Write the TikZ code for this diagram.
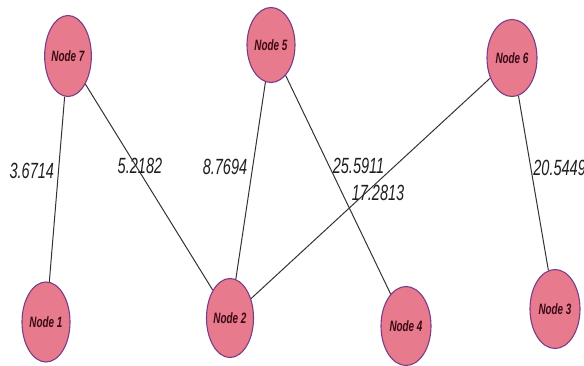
\documentclass[tikz,border=0pt]{standalone}
\usepackage{fontspec}
\usetikzlibrary{shapes.geometric}
\newfontfamily\narrowfont{Liberation Sans}[FakeStretch=0.66]
\definecolor{nodefill}{HTML}{E87A8E}
\definecolor{nodeedge}{HTML}{7A3C86}
\definecolor{nodetext}{HTML}{3A0A14}
\definecolor{edgecol}{HTML}{333333}
\tikzset{
  gnode/.style={ellipse, draw=nodeedge, line width=1.1pt, fill=nodefill, inner sep=0pt,
    font=\narrowfont\bfseries\itshape\fontsize{15}{15}\selectfont, text=nodetext},
  gedge/.style={draw=edgecol, line width=1pt},
  wlabel/.style={font=\narrowfont\itshape\fontsize{22}{22}\selectfont, text=black!88, inner sep=1pt}
}
\begin{document}
\begin{tikzpicture}[x=1pt,y=-1pt]
\useasboundingbox (0,0) rectangle (584,366);
\node[gnode, minimum width=46pt, minimum height=81pt] (n7) at (68,56) {Node 7};
\node[gnode, minimum width=48pt, minimum height=75pt] (n5) at (271,45) {Node 5};
\node[gnode, minimum width=50pt, minimum height=77pt] (n6) at (512,58) {Node 6};
\node[gnode, minimum width=48pt, minimum height=80pt] (n1) at (46,322) {Node 1};
\node[gnode, minimum width=47pt, minimum height=79pt] (n2) at (230,318) {Node 2};
\node[gnode, minimum width=50pt, minimum height=79pt] (n4) at (406,326) {Node 4};
\node[gnode, minimum width=50pt, minimum height=79pt] (n3) at (555,309) {Node 3};
\draw[gedge] (n7) -- node[wlabel, pos=0.40, anchor=east, xshift=-3pt] {3.6714} (n1);
\draw[gedge] (n7) -- node[wlabel, pos=0.397, xshift=4pt] {5.2182} (n2);
\draw[gedge] (n5) -- node[wlabel, pos=0.43, anchor=east, xshift=-4pt] {8.7694} (n2);
\draw[gedge] (n5) -- node[wlabel, pos=0.416, anchor=west, xshift=2pt] {25.5911} (n4);
\draw[gedge] (n2) -- node[wlabel, pos=0.481, xshift=12pt] {17.2813} (n6);
\draw[gedge] (n6) -- node[wlabel, pos=0.414, anchor=west, xshift=1pt] {20.5449} (n3);
\end{tikzpicture}
\end{document}
